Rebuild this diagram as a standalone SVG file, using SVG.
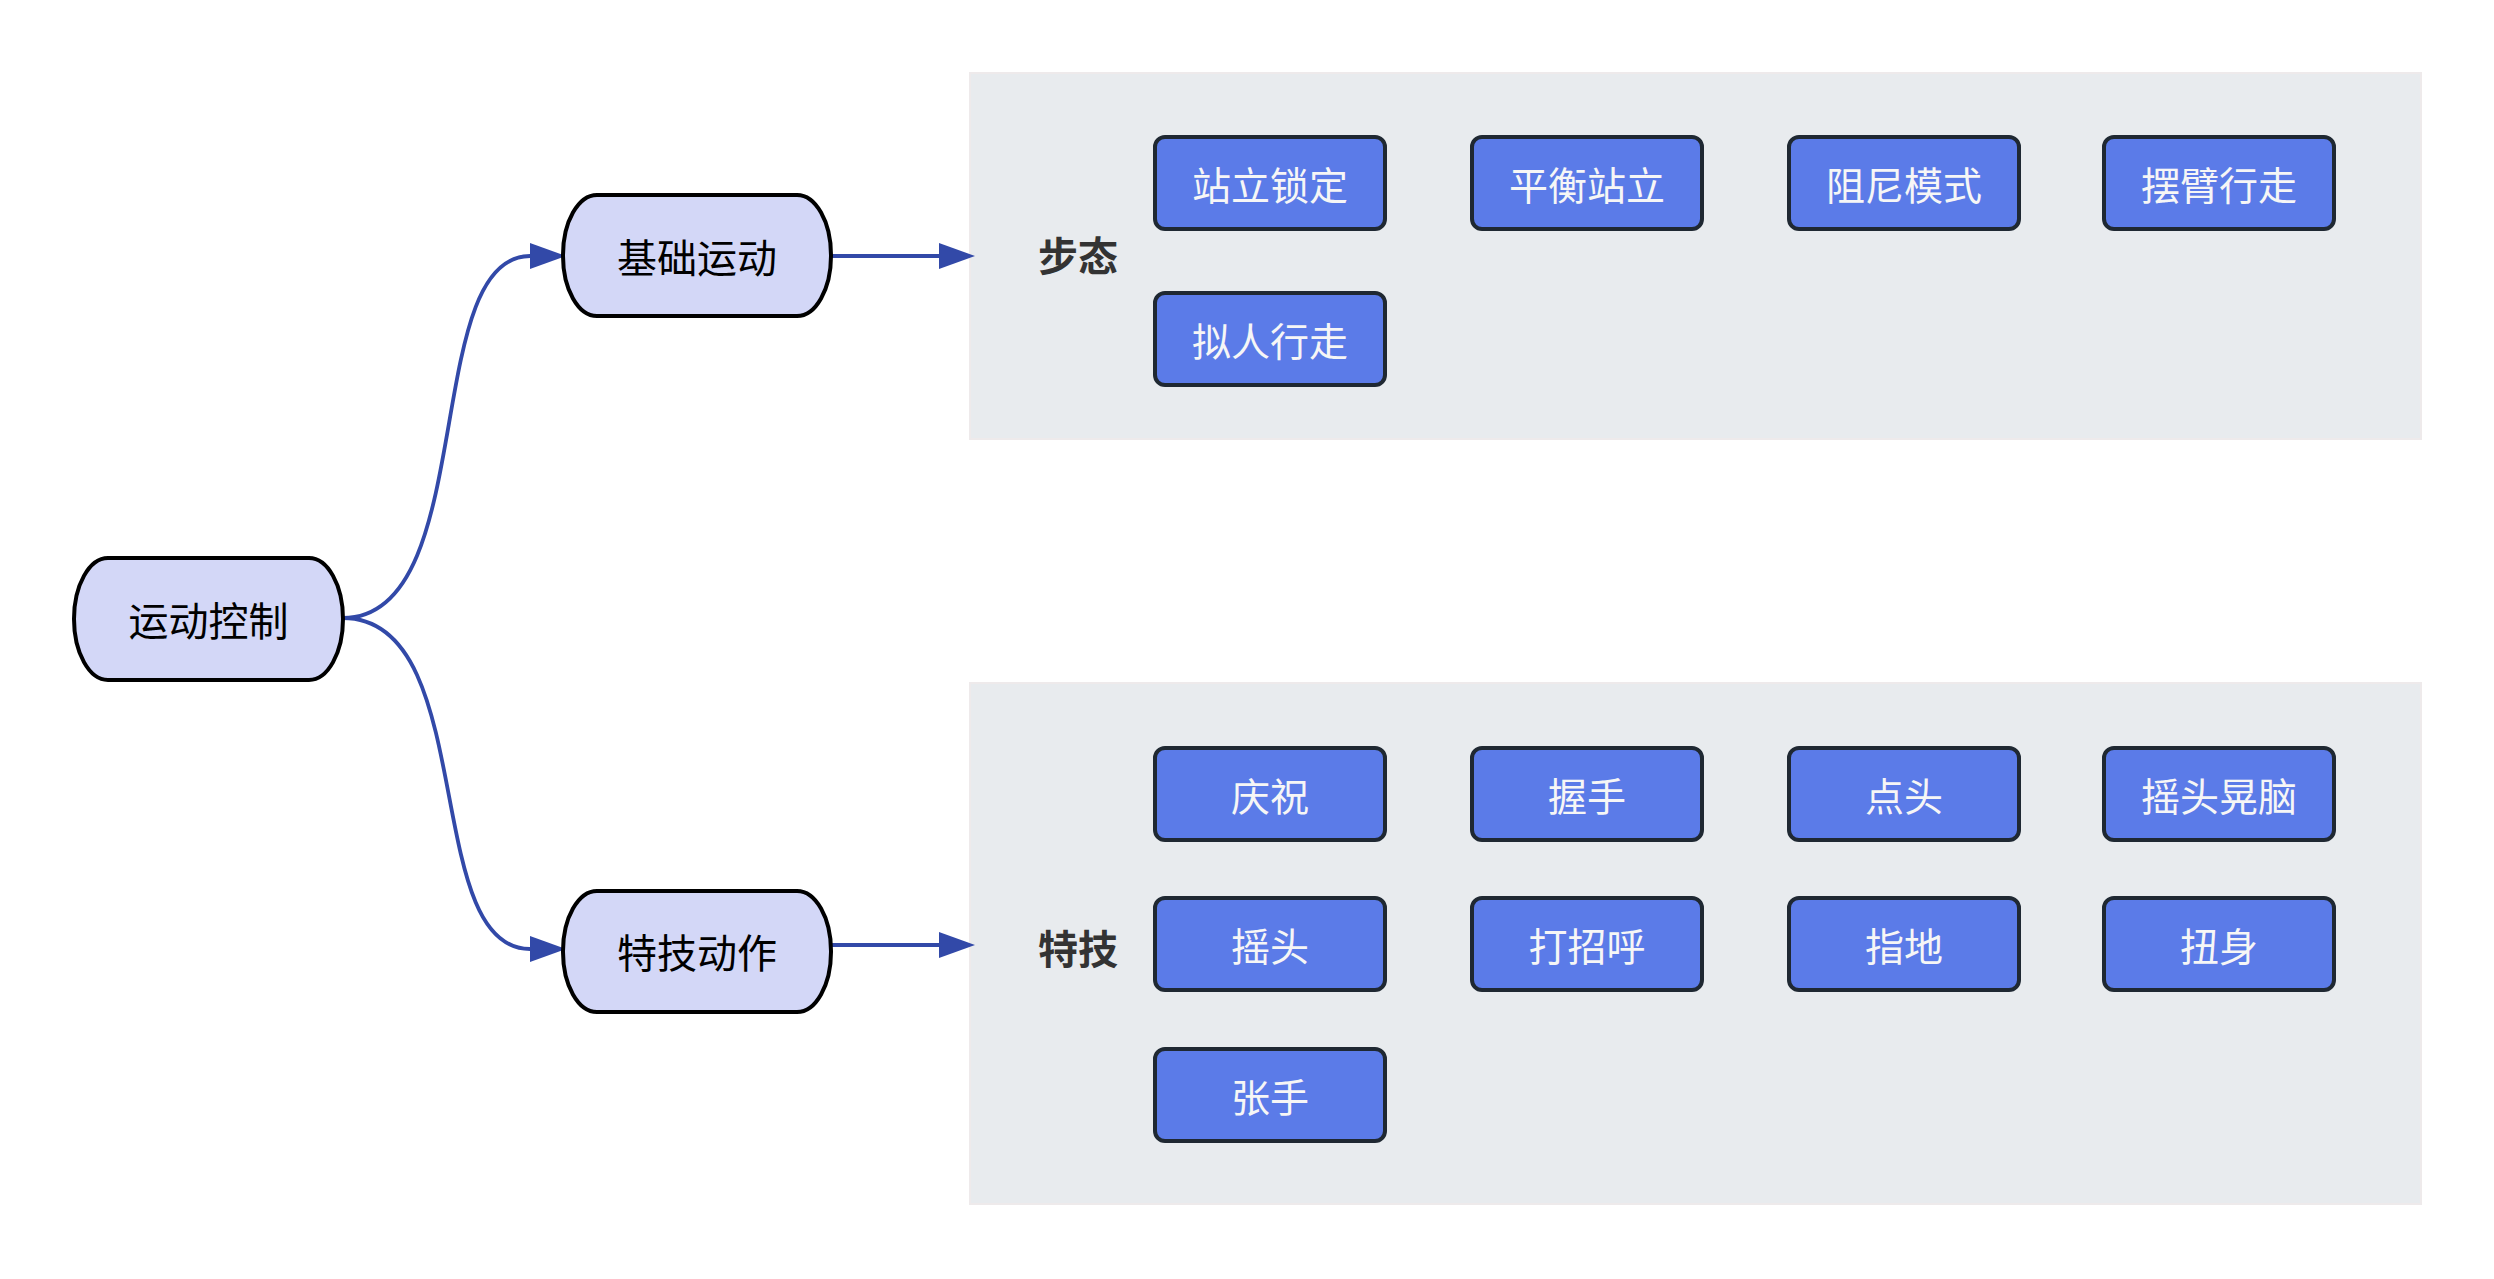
<svg xmlns="http://www.w3.org/2000/svg" width="2494" height="1279" viewBox="0 0 2494 1279">
<style>
  .txt { font-family: "Noto Sans CJK SC", "Noto Sans", sans-serif; }
  .node rect { fill: #d3d7f7; stroke: #000000; stroke-width: 4; }
  .node text { font-size: 40px; fill: #000000; text-anchor: middle; dominant-baseline: central; }
  .group rect.bg { fill: #e8ebee; stroke: #eeeaeb; stroke-width: 2; }
  .group text.label { font-size: 40px; font-weight: bold; fill: #333333; text-anchor: middle; dominant-baseline: central; }
  .item rect { fill: #5b7be8; stroke: #1f2832; stroke-width: 4; }
  .item text { font-size: 39px; fill: #f6f6f6; text-anchor: middle; dominant-baseline: central; }
  .edge { fill: none; stroke: #3249a8; stroke-width: 3.8; }
</style>
<defs>
  <marker id="arrow" markerUnits="userSpaceOnUse" markerWidth="38" markerHeight="28" refX="0" refY="13" orient="auto">
    <path d="M0,0 L36,13 L0,26 Z" fill="#3249a8"/>
  </marker>
</defs>
<rect x="0" y="0" width="2494" height="1279" fill="#ffffff"/>

<g id="group-gait" class="group txt">
  <rect class="bg" x="970" y="73" width="1451" height="366"/>
  <text class="label" x="1078" y="254">步态</text>
  <g id="item-zhanlisuoding" class="item"><rect x="1155" y="137" width="230" height="92" rx="10"/><text x="1270" y="183">站立锁定</text></g>
  <g id="item-pinghengzhanli" class="item"><rect x="1472" y="137" width="230" height="92" rx="10"/><text x="1587" y="183">平衡站立</text></g>
  <g id="item-zunimoshi" class="item"><rect x="1789" y="137" width="230" height="92" rx="10"/><text x="1904" y="183">阻尼模式</text></g>
  <g id="item-baibixingzou" class="item"><rect x="2104" y="137" width="230" height="92" rx="10"/><text x="2219" y="183">摆臂行走</text></g>
  <g id="item-nirenxingzou" class="item"><rect x="1155" y="293" width="230" height="92" rx="10"/><text x="1270" y="339">拟人行走</text></g>
</g>

<g id="group-stunt" class="group txt">
  <rect class="bg" x="970" y="683" width="1451" height="521"/>
  <text class="label" x="1078" y="947">特技</text>
  <g id="item-qingzhu" class="item"><rect x="1155" y="748" width="230" height="92" rx="10"/><text x="1270" y="794">庆祝</text></g>
  <g id="item-woshou" class="item"><rect x="1472" y="748" width="230" height="92" rx="10"/><text x="1587" y="794">握手</text></g>
  <g id="item-diantou" class="item"><rect x="1789" y="748" width="230" height="92" rx="10"/><text x="1904" y="794">点头</text></g>
  <g id="item-yaotouhuangnao" class="item"><rect x="2104" y="748" width="230" height="92" rx="10"/><text x="2219" y="794">摇头晃脑</text></g>
  <g id="item-yaotou" class="item"><rect x="1155" y="898" width="230" height="92" rx="10"/><text x="1270" y="944">摇头</text></g>
  <g id="item-dazhaohu" class="item"><rect x="1472" y="898" width="230" height="92" rx="10"/><text x="1587" y="944">打招呼</text></g>
  <g id="item-zhidi" class="item"><rect x="1789" y="898" width="230" height="92" rx="10"/><text x="1904" y="944">指地</text></g>
  <g id="item-niushen" class="item"><rect x="2104" y="898" width="230" height="92" rx="10"/><text x="2219" y="944">扭身</text></g>
  <g id="item-zhangshou" class="item"><rect x="1155" y="1049" width="230" height="92" rx="10"/><text x="1270" y="1095">张手</text></g>
</g>

<g id="connectors">
  <path class="edge" d="M343,618 C480,618 420,256 530,256" marker-end="url(#arrow)"/>
  <path class="edge" d="M343,618 C480,618 420,949 530,949" marker-end="url(#arrow)"/>
  <path class="edge" d="M831,256 L939,256" marker-end="url(#arrow)"/>
  <path class="edge" d="M831,945 L939,945" marker-end="url(#arrow)"/>
</g>

<g id="node-root" class="node txt">
  <rect x="74" y="558" width="269" height="122" rx="34" ry="61"/>
  <text x="208.5" y="619">运动控制</text>
</g>
<g id="node-basic" class="node txt">
  <rect x="563" y="195" width="268" height="121" rx="34" ry="60"/>
  <text x="697" y="256">基础运动</text>
</g>
<g id="node-stunt" class="node txt">
  <rect x="563" y="891" width="268" height="121" rx="34" ry="60"/>
  <text x="697" y="951">特技动作</text>
</g>
</svg>
